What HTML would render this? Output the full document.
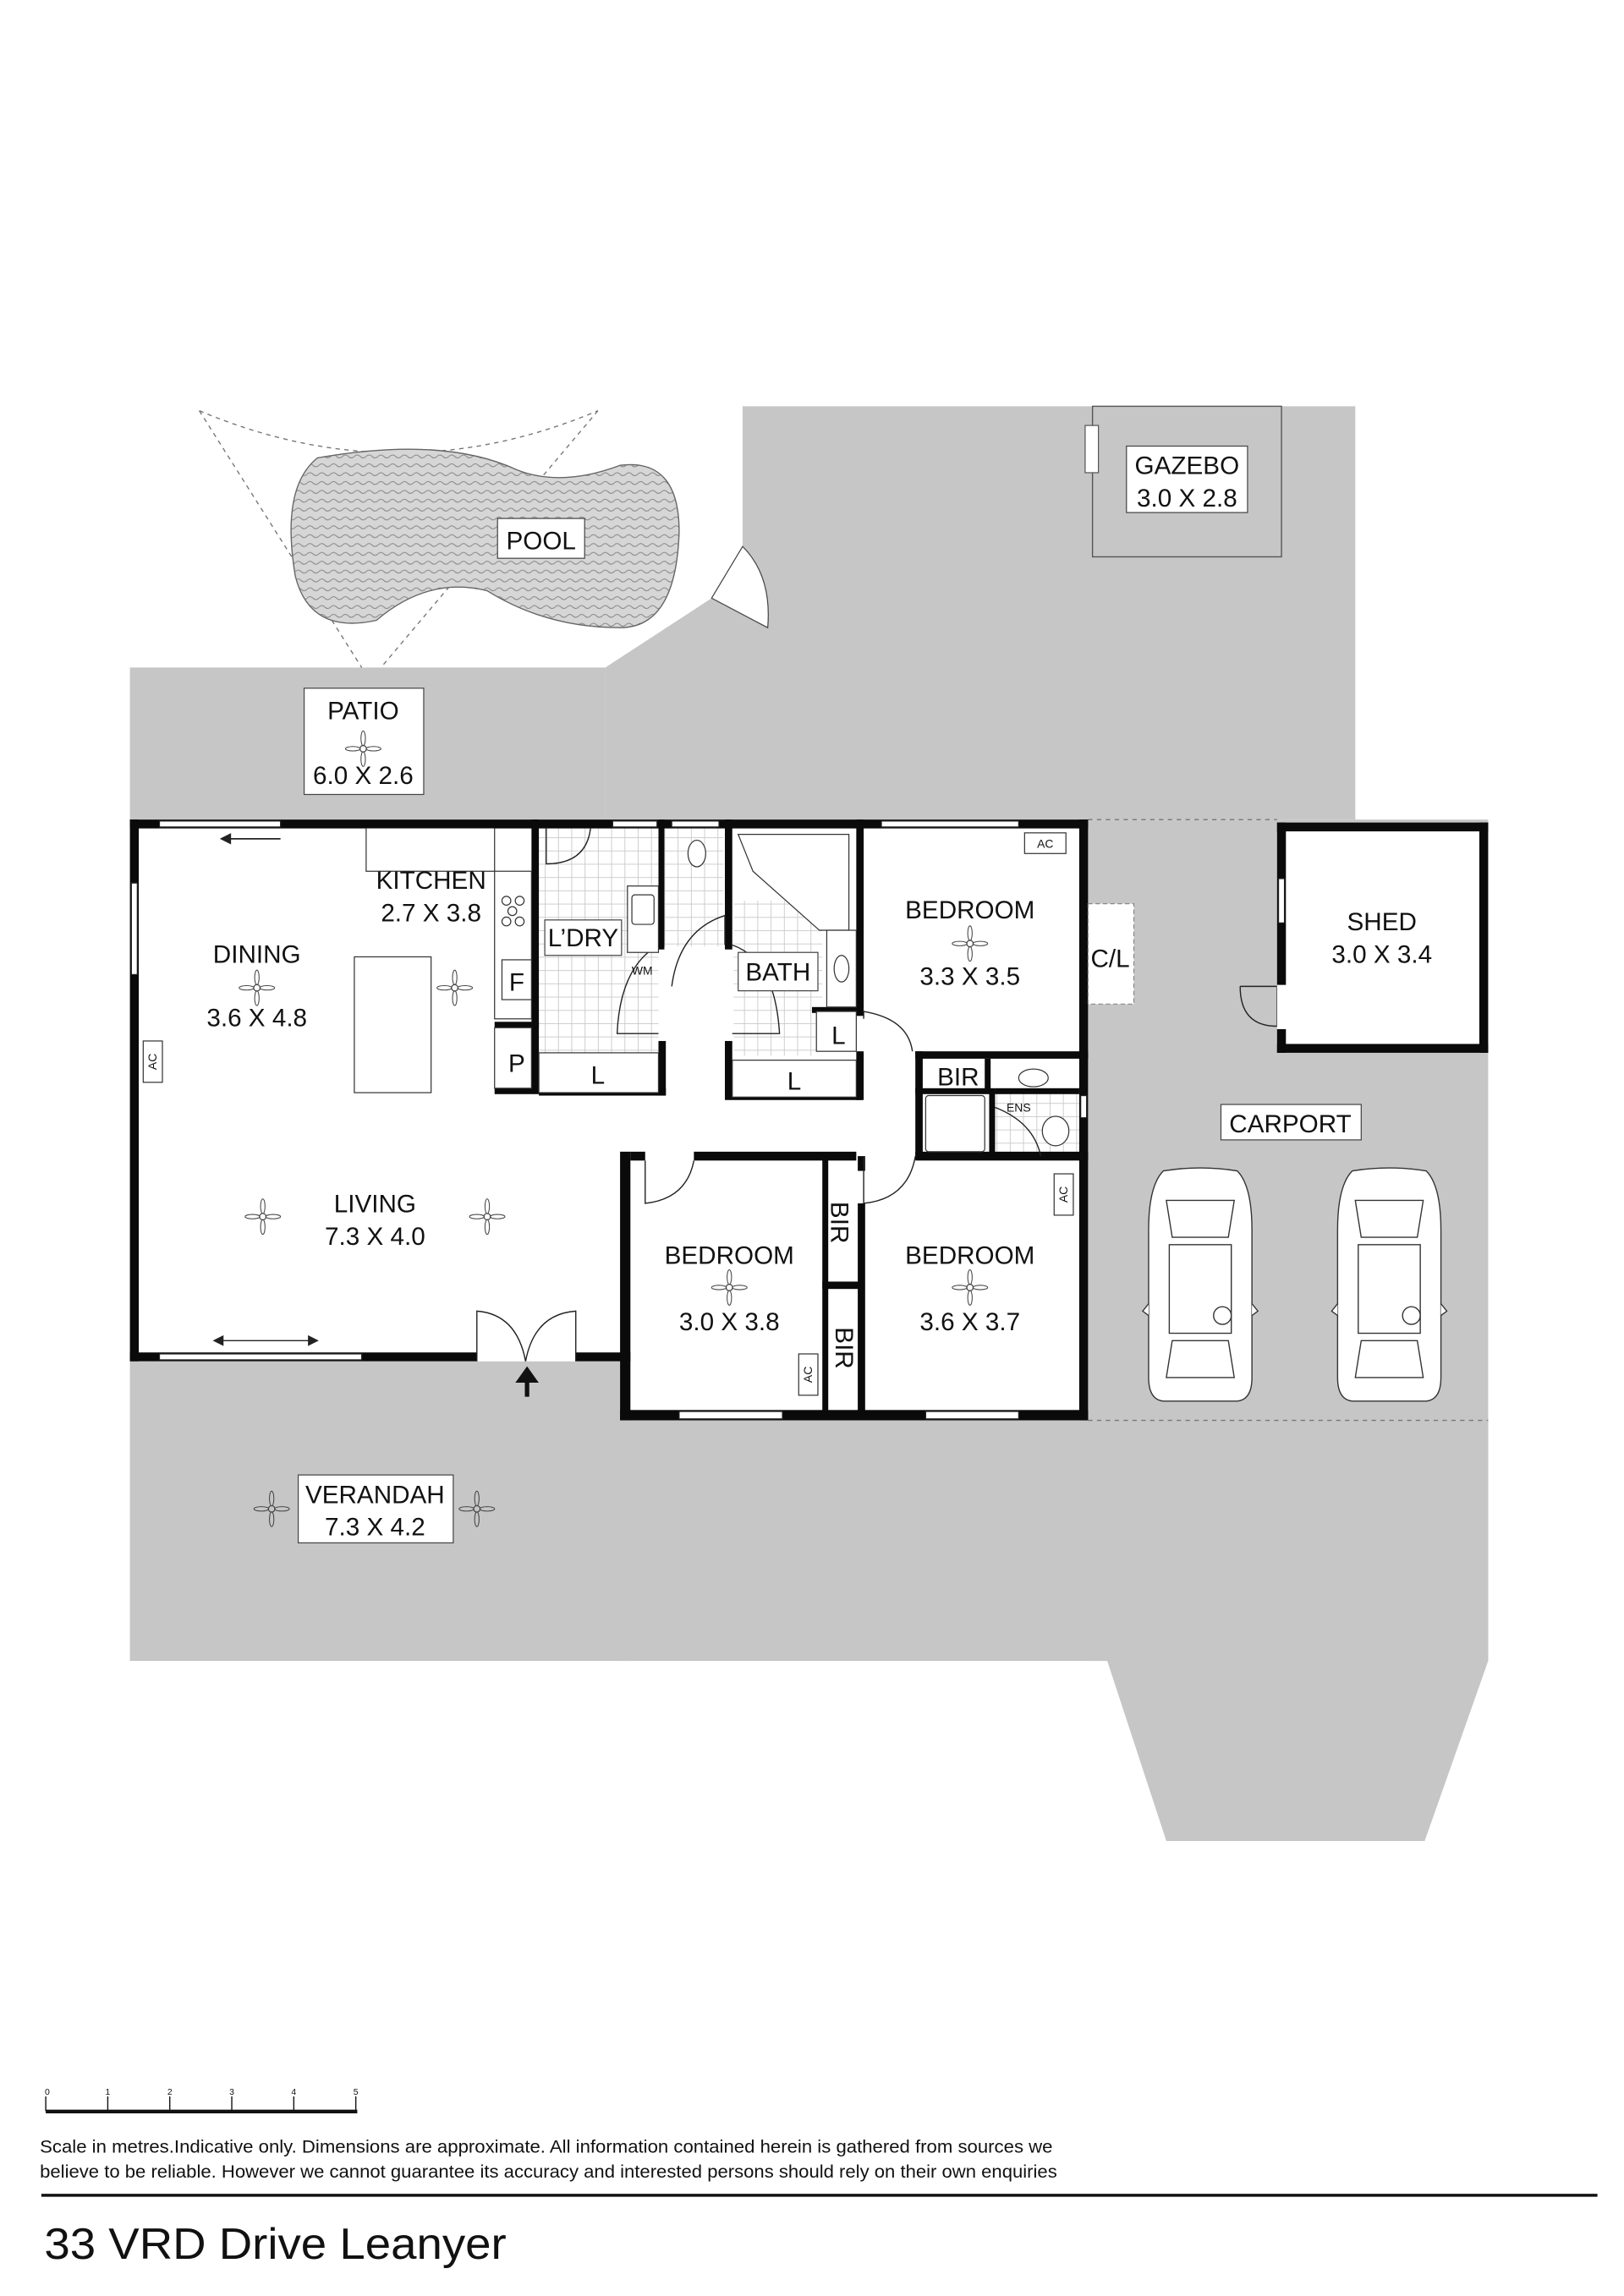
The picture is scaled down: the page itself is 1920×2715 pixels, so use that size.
<!DOCTYPE html>
<html><head><meta charset="utf-8">
<style>html,body{margin:0;padding:0;background:#fff;}svg{display:block}
text{font-family:"Liberation Sans",sans-serif;fill:#111}</style></head>
<body>
<svg width="1920" height="2715" viewBox="0 0 1100 1555" xmlns="http://www.w3.org/2000/svg">
<defs>
<pattern id="tile" width="9" height="9" patternUnits="userSpaceOnUse"><rect width="9" height="9" fill="#fff"/><path d="M0 0H9M0 0V9" stroke="#c8c8c8" stroke-width="1"/></pattern>
<pattern id="wave" width="8" height="6" patternUnits="userSpaceOnUse"><rect width="8" height="6" fill="#d6d6d6"/><path d="M0 3 Q2 1 4 3 T8 3" stroke="#888" stroke-width="0.6" fill="none"/></pattern>
<g id="fan"><circle r="2.2" fill="none" stroke="#444" stroke-width="0.7"/><ellipse cx="0" cy="-7" rx="1.5" ry="5" fill="none" stroke="#444" stroke-width="0.6"/><ellipse cx="0" cy="7" rx="1.5" ry="5" fill="none" stroke="#444" stroke-width="0.6"/><ellipse cx="-7" cy="0" rx="5" ry="1.5" fill="none" stroke="#444" stroke-width="0.6"/><ellipse cx="7" cy="0" rx="5" ry="1.5" fill="none" stroke="#444" stroke-width="0.6"/></g>
<g id="car" fill="#fff" stroke="#333" stroke-width="0.8"><path d="M10 0 Q35 -4 60 0 Q70 10 70 40 L70 140 Q70 155 60 156 L10 156 Q0 155 0 140 L0 40 Q0 10 10 0Z"/><path d="M12 20 L58 20 L54 45 L16 45Z"/><path d="M14 50 L56 50 L56 110 L14 110Z"/><path d="M16 115 L54 115 L58 140 L12 140Z"/><circle cx="50" cy="98" r="6"/><path d="M0 90 L-4 95 L0 98 M70 90 L74 95 L70 98"/></g>
</defs>
<rect width="1100" height="1555" fill="#fff"/>
<!-- grey areas -->
<g fill="#c6c6c7">
<polygon points="503,275 918,275 918,555 410,555 410,452 482,405 503,370"/>
<rect x="88" y="452" width="322" height="103"/>
<rect x="737" y="555" width="271" height="570"/>
<rect x="88" y="922" width="340" height="203"/>
<rect x="420" y="962" width="588" height="163"/>
<polygon points="750,1125 1008,1125 965,1247 790,1247"/>
</g>
<!-- gate wedge -->
<path d="M503,370 L482,405 L520,425 Q523,390 503,370Z" fill="#fff" stroke="#444" stroke-width="0.7"/>
<!-- pool -->
<path d="M135,278 Q270,335 405,278" fill="none" stroke="#777" stroke-width="0.8" stroke-dasharray="3,3"/>
<path d="M135,278 L245,452 M405,278 L258,452" fill="none" stroke="#777" stroke-width="0.8" stroke-dasharray="3,3"/>
<path d="M215,310 Q300,295 350,318 Q380,330 420,315 Q460,310 460,360 Q458,425 420,425 Q370,425 330,400 Q290,390 255,420 Q210,430 200,390 Q190,330 215,310Z" fill="url(#wave)" stroke="#666" stroke-width="0.8"/>
<rect x="337" y="351" width="59" height="27" fill="#fff" stroke="#444" stroke-width="0.7"/>
<text x="366.5" y="372" font-size="17" text-anchor="middle">POOL</text>
<!-- gazebo -->
<rect x="740" y="275" width="128" height="102" fill="none" stroke="#555" stroke-width="0.8"/>
<rect x="735" y="288" width="9" height="32" fill="#fff" stroke="#555" stroke-width="0.7"/>
<rect x="763" y="302" width="82" height="45" fill="#fff" stroke="#444" stroke-width="0.7"/>
<text x="804" y="321" font-size="17" text-anchor="middle">GAZEBO</text>
<text x="804" y="343" font-size="17" text-anchor="middle">3.0 X 2.8</text>
<!-- patio -->
<rect x="206" y="466" width="81" height="72" fill="#fff" stroke="#444" stroke-width="0.7"/>
<text x="246" y="487" font-size="17" text-anchor="middle">PATIO</text>
<use href="#fan" x="246" y="507"/>
<text x="246" y="531" font-size="17" text-anchor="middle">6.0 X 2.6</text>
<!-- dashed carport edges -->
<path d="M737,555 H865 M737,962 H1008" stroke="#777" stroke-width="0.8" stroke-dasharray="3,3"/>
<!-- house interior -->
<rect x="88" y="555" width="649" height="367" fill="#fff"/>
<rect x="420" y="780" width="317" height="182" fill="#fff"/>
<!-- tiles -->
<rect x="365" y="561" width="81" height="152" fill="url(#tile)"/>
<rect x="450" y="561" width="40" height="80" fill="url(#tile)"/>
<rect x="497" y="610" width="60" height="105" fill="url(#tile)"/>
<rect x="674" y="740" width="57" height="43" fill="url(#tile)"/>
<g fill="#0a0a0a">
<!-- outer walls -->
<rect x="88" y="555" width="649" height="6"/>
<rect x="88" y="555" width="6" height="367"/>
<rect x="88" y="916" width="235" height="6"/>
<rect x="390" y="916" width="37" height="6"/>
<rect x="420" y="780" width="7" height="182"/>
<rect x="420" y="955" width="317" height="7"/>
<rect x="731" y="555" width="6" height="407"/>
<rect x="427" y="780" width="10" height="6"/>
<rect x="470" y="780" width="110" height="6"/>
<rect x="620" y="780" width="117" height="6"/>
<rect x="557" y="783" width="4" height="175"/>
<rect x="581" y="783" width="5" height="10"/>
<rect x="581" y="815" width="5" height="143"/>
<rect x="557" y="868" width="28" height="5"/>
<!-- kitchen/laundry -->
<rect x="360" y="555" width="5" height="185"/>
<rect x="335" y="692" width="30" height="4"/>
<rect x="335" y="737" width="30" height="4"/>
<rect x="446" y="555" width="4" height="88"/>
<rect x="446" y="705" width="5" height="37"/>
<rect x="365" y="737" width="86" height="5"/>
<rect x="491" y="555" width="5" height="88"/>
<rect x="491" y="705" width="5" height="37"/>
<rect x="491" y="740" width="93" height="5"/>
<rect x="580" y="555" width="5" height="133"/>
<rect x="580" y="712" width="5" height="33"/>
<rect x="550" y="682" width="33" height="4"/>
<rect x="620" y="712" width="117" height="5"/>
<rect x="620" y="712" width="5" height="73"/>
<rect x="667" y="717" width="4" height="23"/>
<rect x="620" y="737" width="54" height="4"/>
<rect x="670" y="740" width="4" height="43"/>
<rect x="674" y="737" width="57" height="4"/>
</g>
<!-- windows -->
<g fill="#fff" stroke="#222" stroke-width="0.7">
<rect x="108" y="556" width="82" height="4"/><rect x="415" y="556" width="30" height="4"/><rect x="455" y="556" width="32" height="4"/><rect x="597" y="556" width="93" height="4"/>
<rect x="89" y="598" width="4" height="62"/>
<rect x="108" y="917" width="137" height="4"/>
<rect x="460" y="956" width="70" height="5"/><rect x="627" y="956" width="63" height="5"/>
<rect x="732" y="742" width="4" height="15"/>
</g>
<!-- doors -->
<g fill="none" stroke="#222" stroke-width="0.8">
<path d="M370,561 V585 Q397,585 400,561"/>
<path d="M446,640 Q420,655 418,700 H446"/>
<path d="M491,640 V620 Q460,630 455,668"/>
<path d="M496,640 Q525,650 528,700 H496"/>
<path d="M585,690 V685 Q615,690 618,712"/>
<path d="M585,783 V815 Q615,812 620,783"/>
<path d="M437,786 V815 Q465,812 470,786"/>
<path d="M323,922 V888 Q350,890 356,922 M390,922 V888 Q362,890 356,922"/>
<path d="M674,750 Q700,760 705,783"/>
<path d="M840,668 H865 V695 Q840,695 840,668"/>
</g>
<!-- fixtures -->
<g fill="#fff" stroke="#333" stroke-width="0.7">
<path d="M248,561 V590 H335 V561"/>
<rect x="335" y="590" width="25" height="100"/>
<circle cx="343" cy="610" r="3"/><circle cx="352" cy="610" r="3"/><circle cx="347" cy="617" r="3"/><circle cx="343" cy="624" r="3"/><circle cx="352" cy="624" r="3"/>
<rect x="340" y="650" width="20" height="27"/>
<rect x="240" y="648" width="52" height="92"/>
<rect x="425" y="600" width="21" height="45"/><rect x="428" y="606" width="15" height="20" rx="2"/>
<ellipse cx="472" cy="578" rx="6" ry="9"/>
<path d="M500,565 H575 V630 H555 L510,590Z"/>
<rect x="560" y="630" width="20" height="52"/><ellipse cx="570" cy="656" rx="5" ry="9"/>
<rect x="365" y="713" width="81" height="27"/><rect x="496" y="718" width="84" height="25"/>
<rect x="553" y="685" width="27" height="27"/>
<rect x="335" y="696" width="25" height="41"/>
<rect x="627" y="742" width="40" height="38" rx="2"/>
<ellipse cx="700" cy="730" rx="10" ry="6"/><ellipse cx="715" cy="766" rx="9" ry="10"/>
<rect x="694" y="564" width="28" height="14"/><rect x="97" y="705" width="13" height="28"/>
<rect x="714" y="795" width="13" height="28"/><rect x="541" y="917" width="13" height="28"/>
<rect x="737" y="612" width="31" height="68" stroke-dasharray="3,2" stroke="#888"/>
</g>
<g font-size="8" text-anchor="middle"><text x="708" y="574">AC</text><text x="690" y="753">ENS</text></g>
<text font-size="8" transform="translate(106,719) rotate(-90)" text-anchor="middle">AC</text>
<text font-size="8" transform="translate(723,809) rotate(-90)" text-anchor="middle">AC</text>
<text font-size="8" transform="translate(550,931) rotate(-90)" text-anchor="middle">AC</text>
<text x="435" y="660" font-size="8" text-anchor="middle">WM</text>
<!-- shed -->
<rect x="865" y="557" width="143" height="156" fill="#fff"/>
<g fill="#0a0a0a"><rect x="865" y="557" width="143" height="6"/><rect x="865" y="557" width="6" height="110"/><rect x="865" y="697" width="6" height="16"/><rect x="865" y="707" width="143" height="6"/><rect x="1002" y="557" width="6" height="156"/></g>
<rect x="866" y="595" width="4" height="30" fill="#fff" stroke="#222" stroke-width="0.7"/>
<!-- cars -->
<use href="#car" x="778" y="793"/><use href="#car" x="906" y="793"/>
<!-- arrows -->
<path d="M150,568 H190 M150,568 l6,-3 v6z" stroke="#222" stroke-width="1" fill="#222"/>
<path d="M145,908 H215 M145,908 l6,-3 v6z M215,908 l-6,-3 v6z" stroke="#222" stroke-width="0.8" fill="#222"/>
<path d="M357,946 V935 H352 L357,928 L362,935 H357" stroke="#111" stroke-width="3" fill="#111"/>
<!-- labels -->
<g font-size="17" text-anchor="middle">
<text x="292" y="602">KITCHEN</text><text x="292" y="624">2.7 X 3.8</text>
<text x="174" y="652">DINING</text><use href="#fan" x="174" y="669"/><text x="174" y="695">3.6 X 4.8</text>
<use href="#fan" x="308" y="669"/>
<text x="254" y="821">LIVING</text><text x="254" y="843">7.3 X 4.0</text>
<use href="#fan" x="178" y="824"/><use href="#fan" x="330" y="824"/>
<text x="657" y="622">BEDROOM</text><use href="#fan" x="657" y="639"/><text x="657" y="667">3.3 X 3.5</text>
<text x="494" y="856">BEDROOM</text><use href="#fan" x="494" y="872"/><text x="494" y="901">3.0 X 3.8</text>
<text x="657" y="856">BEDROOM</text><use href="#fan" x="657" y="872"/><text x="657" y="901">3.6 X 3.7</text>
<text x="936" y="630">SHED</text><text x="936" y="652">3.0 X 3.4</text>
<text x="752" y="655">C/L</text>
<text x="350" y="671">F</text><text x="350" y="726">P</text>
<text x="405" y="734">L</text><text x="538" y="738">L</text><text x="568" y="707">L</text>
<text x="649" y="735">BIR</text>
</g>
<g fill="#fff" stroke="#444" stroke-width="0.7">
<rect x="369" y="623" width="52" height="24"/><rect x="500" y="645" width="54" height="26"/>
<rect x="827" y="748" width="95" height="24"/><rect x="202" y="999" width="105" height="46"/>
</g>
<g font-size="17" text-anchor="middle">
<text x="395" y="641">L’DRY</text><text x="527" y="664">BATH</text>
<text x="874" y="767">CARPORT</text>
<text x="254" y="1018">VERANDAH</text><text x="254" y="1040">7.3 X 4.2</text>
</g>
<text font-size="17" text-anchor="middle" transform="translate(563,828) rotate(90)">BIR</text>
<text font-size="17" text-anchor="middle" transform="translate(566,913) rotate(90)">BIR</text>
<use href="#fan" x="184" y="1022"/><use href="#fan" x="323" y="1022"/>
<!-- scale -->
<path d="M31,1420 V1430 M73,1420 V1430 M115,1420 V1430 M157,1420 V1430 M199,1420 V1430 M241,1420 V1430" stroke="#111" stroke-width="0.8"/>
<rect x="31" y="1429" width="211" height="2.5" fill="#111"/>
<g font-size="6" text-anchor="middle"><text x="32" y="1419">0</text><text x="73" y="1419">1</text><text x="115" y="1419">2</text><text x="157" y="1419">3</text><text x="199" y="1419">4</text><text x="241" y="1419">5</text></g>
<text x="27" y="1458" font-size="12" textLength="686" lengthAdjust="spacingAndGlyphs">Scale in metres.Indicative only. Dimensions are approximate. All information contained herein is gathered from sources we</text>
<text x="27" y="1475" font-size="12" textLength="689" lengthAdjust="spacingAndGlyphs">believe to be reliable. However we cannot guarantee its accuracy and interested persons should rely on their own enquiries</text>
<rect x="28" y="1486" width="1054" height="2" fill="#111"/>
<text x="30" y="1530" font-size="30" textLength="313" lengthAdjust="spacingAndGlyphs" font-family="DejaVu Sans Condensed, DejaVu Sans, sans-serif">33 VRD Drive Leanyer</text>
</svg>
</body></html>
